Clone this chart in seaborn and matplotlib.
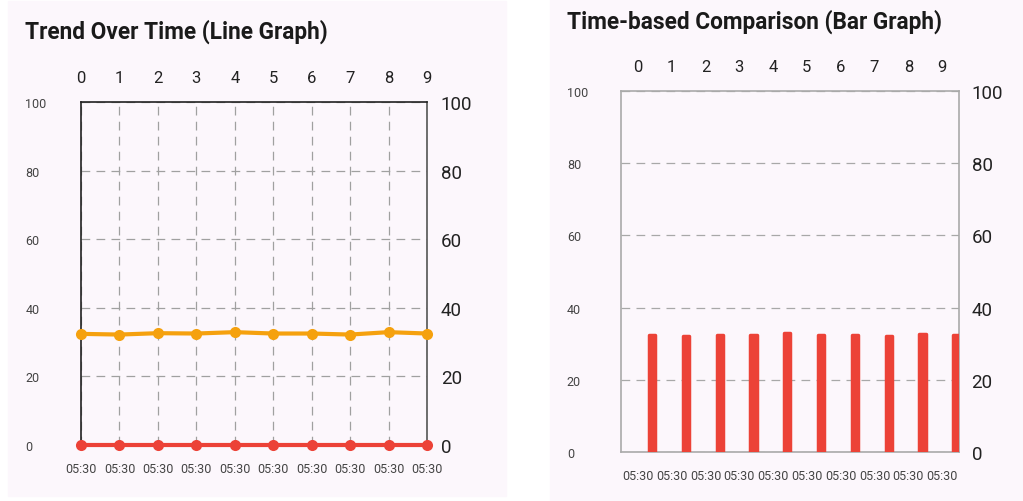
import matplotlib.pyplot as plt
from matplotlib.patches import Rectangle
import pandas as pd
import seaborn as sns

# data
points = list(range(10))
time_labels = ["05:30"] * 10
trend_values = [32.4, 32.2, 32.6, 32.5, 32.9, 32.5, 32.5, 32.2, 32.9, 32.5]
baseline_values = [0, 0, 0, 0, 0, 0, 0, 0, 0, 0]
bar_values = [32.3, 32.2, 32.4, 32.4, 32.9, 32.3, 32.3, 32.1, 32.8, 32.4]
y_ticks = [0, 20, 40, 60, 80, 100]

orange = "#F5A10E"
red = "#EC4237"
card = "#FCF7FC"
small_col = "#444444"
dash = (0, (7, 5))

sns.set_theme(style="white")
plt.rcParams['font.family'] = ['Roboto', 'DejaVu Sans']

fig = plt.figure(figsize=(10.23, 5.02), dpi=100)
fig.patch.set_facecolor("white")
fig.patches.append(Rectangle((8 / 1023, 5 / 502), 498 / 1023, 495 / 502,
                             transform=fig.transFigure, color=card, zorder=-10))
fig.patches.append(Rectangle((550 / 1023, 0), 473 / 1023, 1,
                             transform=fig.transFigure, color=card, zorder=-10))

# ---------- left: line graph ----------
ax1 = fig.add_axes([81 / 1023, 56 / 502, 346 / 1023, 343 / 502])
ax1.set_facecolor(card)
ax1.set_axisbelow(True)
df_line = pd.DataFrame({"point": points, "trend": trend_values, "base": baseline_values})
sns.lineplot(data=df_line, x="point", y="trend", ax=ax1, color=orange, linewidth=3,
             marker="o", markersize=8, markeredgewidth=0, clip_on=False, zorder=3)
sns.lineplot(data=df_line, x="point", y="base", ax=ax1, color=red, linewidth=3,
             marker="o", markersize=8, markeredgewidth=0, clip_on=False, zorder=4)
ax1.set_xlim(0, 9)
ax1.set_ylim(0, 100)
ax1.set_xticks(points, labels=time_labels)
ax1.set_yticks(y_ticks)
ax1.set_xlabel("")
ax1.set_ylabel("")
ax1.grid(True, color="#a0a0a0", linestyle=dash, linewidth=0.9)
ax1.tick_params(axis="x", length=0, labelsize=9, pad=12, colors=small_col)
ax1.tick_params(axis="y", length=0, labelsize=9, pad=40, colors=small_col)
for lab in ax1.get_yticklabels():
    lab.set_horizontalalignment("left")
for s in ax1.spines.values():
    s.set_color("#222222")
    s.set_linewidth(1.2)
ax1.spines["right"].set_color("#555555")

top1 = ax1.secondary_xaxis("top")
top1.set_xticks(points, labels=[str(p) for p in points])
top1.tick_params(length=0, labelsize=12, pad=12, colors="#222222")
top1.spines["top"].set_visible(False)
right1 = ax1.secondary_yaxis("right")
right1.set_yticks(y_ticks)
right1.tick_params(length=0, labelsize=13.5, pad=10, colors="#222222")
right1.spines["right"].set_visible(False)

fig.text(25 / 1023, 1 - 32 / 502, "Trend Over Time (Line Graph)", fontsize=16.3,
         fontweight="bold", va="center", ha="left", color="#1a1a1a")

# ---------- right: bar graph ----------
ax2 = fig.add_axes([621 / 1023, 49 / 502, 338 / 1023, 361 / 502])
ax2.set_facecolor(card)
ax2.set_axisbelow(True)
bar_offset = 0.42
df_bar = pd.DataFrame({"pos": [p + bar_offset for p in points], "value": bar_values})
sns.barplot(data=df_bar, x="pos", y="value", native_scale=True, width=0.18,
            color=red, saturation=1, ax=ax2, zorder=3)
for bar in ax2.patches:
    bar.set_edgecolor(red)
    bar.set_linewidth(2.5)
    bar.set_joinstyle("round")
ax2.set_xlim(-0.5, 9.5)
ax2.set_ylim(0, 100)
ax2.set_xticks(points, labels=time_labels)
ax2.set_yticks(y_ticks)
ax2.set_xlabel("")
ax2.set_ylabel("")
ax2.yaxis.grid(True, color="#a8a8a8", linestyle=dash, linewidth=0.9)
ax2.xaxis.grid(False)
ax2.tick_params(axis="x", length=0, labelsize=9, pad=12, colors=small_col)
ax2.tick_params(axis="y", length=0, labelsize=9, pad=39, colors=small_col)
for lab in ax2.get_yticklabels():
    lab.set_horizontalalignment("left")
for s in ax2.spines.values():
    s.set_color("#aaaaaa")
    s.set_linewidth(1.2)

top2 = ax2.secondary_xaxis("top")
top2.set_xticks(points, labels=[str(p) for p in points])
top2.tick_params(length=0, labelsize=12, pad=12, colors="#222222")
top2.spines["top"].set_visible(False)
right2 = ax2.secondary_yaxis("right")
right2.set_yticks(y_ticks)
right2.tick_params(length=0, labelsize=13.5, pad=9, colors="#222222")
right2.spines["right"].set_visible(False)

fig.text(567 / 1023, 1 - 22 / 502, "Time-based Comparison (Bar Graph)", fontsize=16.3,
         fontweight="bold", va="center", ha="left", color="#1a1a1a")

fig.savefig("out.png", dpi=100, facecolor="white")
